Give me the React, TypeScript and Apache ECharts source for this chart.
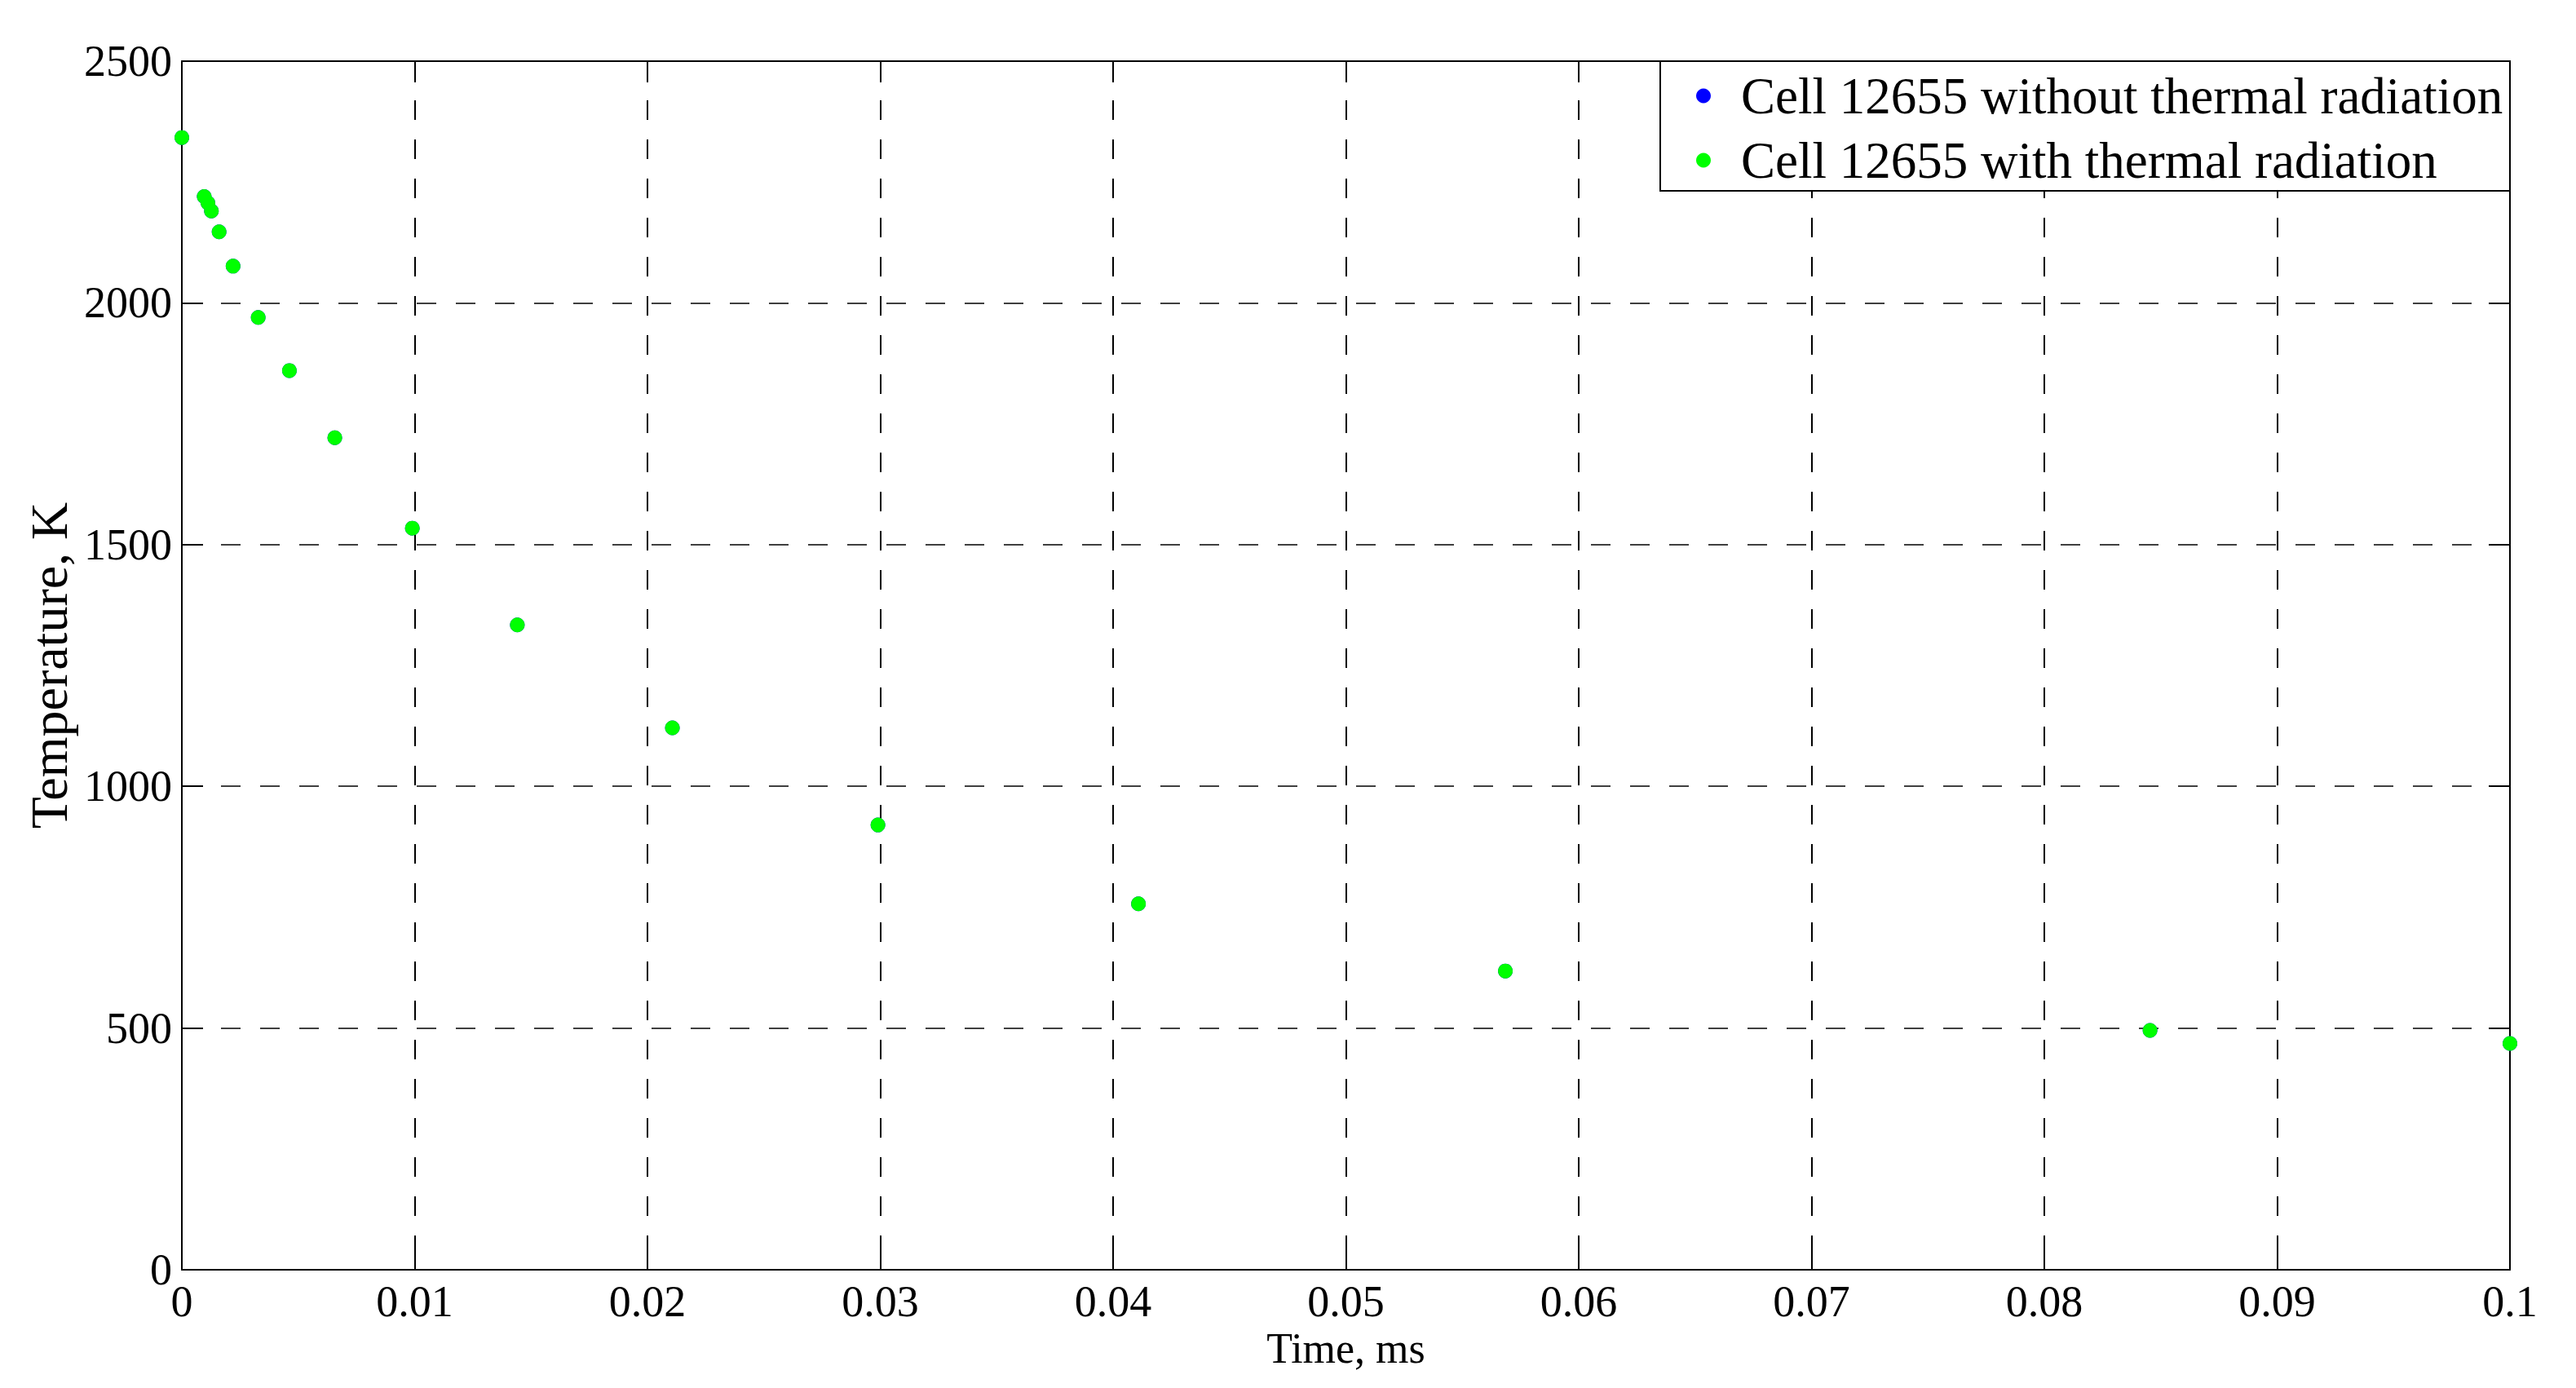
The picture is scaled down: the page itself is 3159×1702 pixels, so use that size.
import React, { useEffect, useRef } from "react";
import * as echarts from "echarts";

// Time, ms
const timeMs = [
  0, 0.00096, 0.00112, 0.00127, 0.0016, 0.0022, 0.00328, 0.00462, 0.00657,
  0.0099, 0.01441, 0.02107, 0.0299, 0.04109, 0.05685, 0.08454, 0.1,
];
// Temperature, K (without thermal radiation: hidden beneath the green points)
const tempWithout = [
  2342, 2220, 2207, 2190, 2147, 2076, 1970, 1860, 1721,
  1534, 1334, 1121, 920, 757, 618, 495, 468,
];
// Temperature, K (with thermal radiation)
const tempWith = [
  2342, 2220, 2207, 2190, 2147, 2076, 1970, 1860, 1721,
  1534, 1334, 1121, 920, 757, 618, 495, 468,
];
const seriesNames = [
  "Cell 12655 without thermal radiation",
  "Cell 12655 with thermal radiation",
];
const xTitle = "Time, ms";
const yTitle = "Temperature, K";

const FONT = "'Liberation Serif', 'Times New Roman', serif";

export default function App() {
  const ref = useRef<HTMLDivElement>(null);

  useEffect(() => {
    if (!ref.current) return;
    const chart = echarts.init(ref.current, null, { renderer: "svg" });

    const pairs = (ys: number[]) => timeMs.map((t, i) => [t, ys[i]]);
    const dash = [24, 24];

    const axisCommonX = {
      type: "value" as const,
      min: 0,
      max: 0.1,
      interval: 0.01,
      axisLine: { show: true, onZero: false, lineStyle: { color: "#000", width: 2 } },
      axisTick: { show: true, inside: true, length: 26, lineStyle: { color: "#000", width: 2 } },
    };
    const axisCommonY = {
      type: "value" as const,
      min: 0,
      max: 2500,
      interval: 500,
      axisLine: { show: true, onZero: false, lineStyle: { color: "#000", width: 2 } },
      axisTick: { show: true, inside: true, length: 26, lineStyle: { color: "#000", width: 2 } },
    };

    chart.setOption({
      animation: false,
      backgroundColor: "#fff",
      grid: { left: 223, right: 81, top: 75, bottom: 145, containLabel: false },
      xAxis: [
        {
          ...axisCommonX,
          position: "bottom",
          name: xTitle,
          nameLocation: "middle",
          nameGap: 58,
          nameTextStyle: { fontFamily: FONT, fontSize: 52, color: "#000" },
          axisLabel: {
            fontFamily: FONT,
            fontSize: 54,
            color: "#000",
            margin: 12,
            formatter: (v: number) => String(+v.toFixed(4)),
          },
          splitLine: { show: true, lineStyle: { color: "#000", width: 2, type: dash } },
        },
        {
          ...axisCommonX,
          position: "top",
          axisLabel: { show: false },
          splitLine: { show: false },
        },
      ],
      yAxis: [
        {
          ...axisCommonY,
          position: "left",
          name: yTitle,
          nameLocation: "middle",
          nameGap: 109,
          nameTextStyle: { fontFamily: FONT, fontSize: 64, color: "#000" },
          axisLabel: {
            fontFamily: FONT,
            fontSize: 54,
            color: "#000",
            margin: 12,
            formatter: (v: number) => String(Math.round(v)),
          },
          splitLine: { show: true, lineStyle: { color: "#000", width: 1.5, type: dash } },
        },
        {
          ...axisCommonY,
          position: "right",
          axisLabel: { show: false },
          splitLine: { show: false },
        },
      ],
      legend: {
        orient: "vertical",
        left: 2080,
        top: 86,
        padding: 0,
        itemGap: 16,
        itemWidth: 82,
        itemHeight: 18,
        icon: "circle",
        z: 20,
        textStyle: { fontFamily: FONT, fontSize: 63, lineHeight: 62, color: "#000" },
        data: seriesNames,
      },
      graphic: [
        {
          type: "rect",
          z: 10,
          shape: { x: 2036, y: 75, width: 3078 - 2036, height: 159 },
          style: { fill: "#fff", stroke: "#000", lineWidth: 2 },
        },
      ],
      series: [
        {
          name: seriesNames[0],
          type: "scatter",
          symbol: "circle",
          symbolSize: 18,
          itemStyle: { color: "#0000ff", opacity: 1 },
          data: pairs(tempWithout),
          z: 2,
        },
        {
          name: seriesNames[1],
          type: "scatter",
          symbol: "circle",
          symbolSize: 18,
          itemStyle: { color: "#00ff00", opacity: 1 },
          data: pairs(tempWith),
          z: 3,
        },
      ],
    });

    return () => chart.dispose();
  }, []);

  return (
    <div
      ref={ref}
      style={{ position: "fixed", left: 0, top: 0, width: 3159, height: 1702, background: "#fff" }}
    />
  );
}
